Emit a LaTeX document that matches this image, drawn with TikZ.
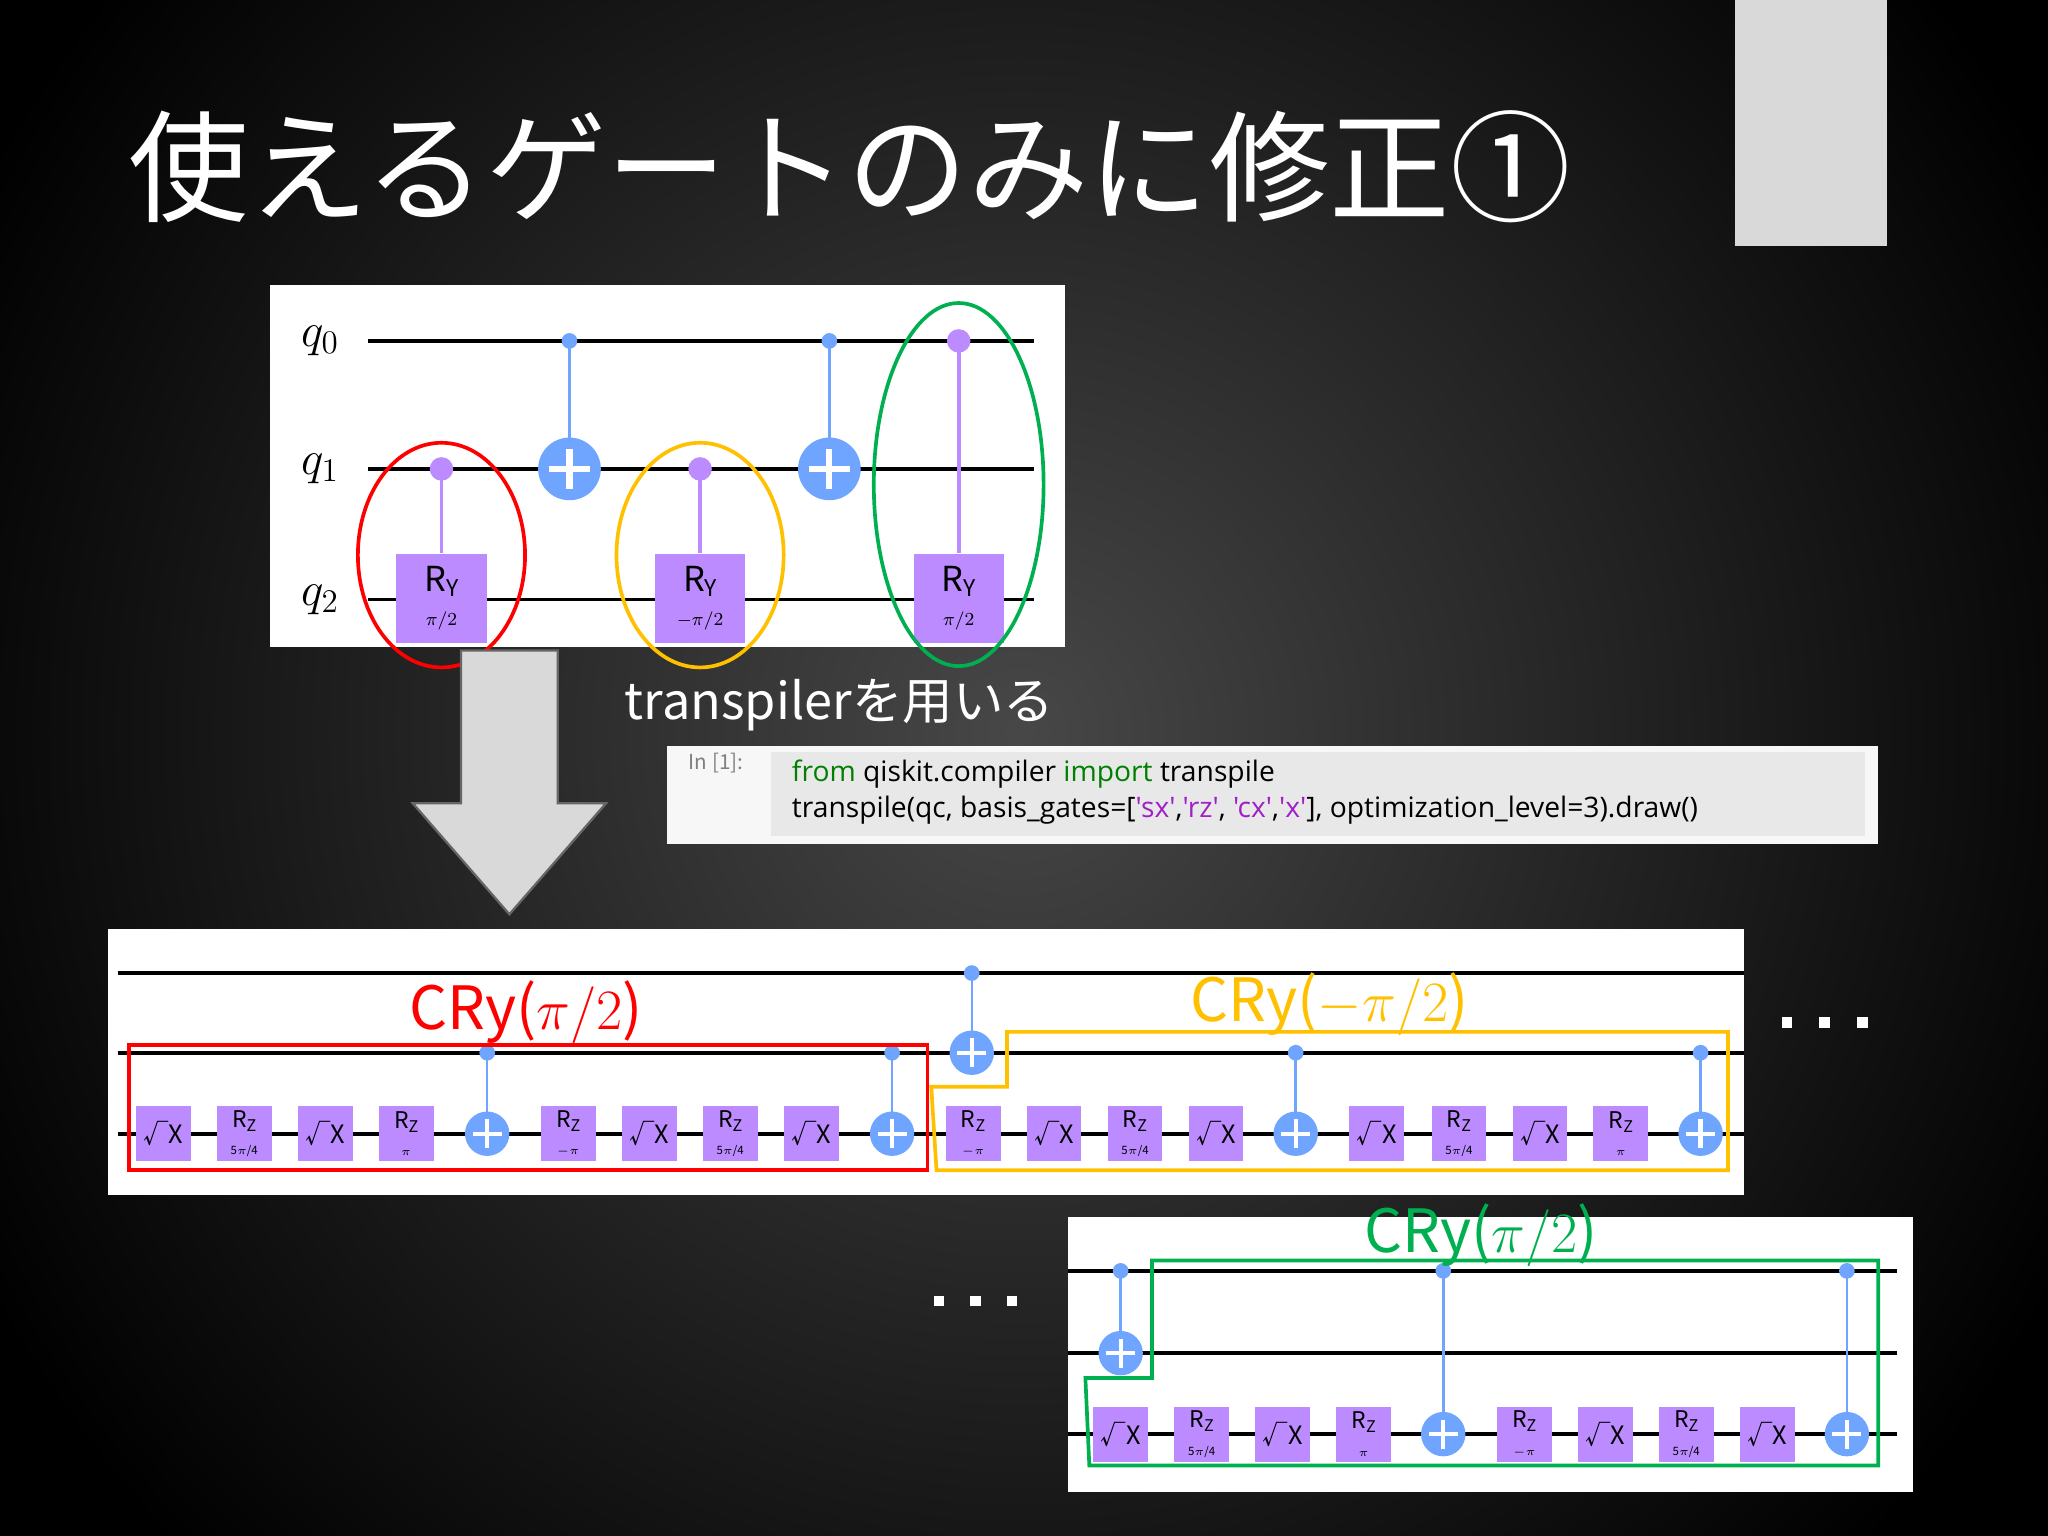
\documentclass[tikz,border=0pt]{standalone}
\usepackage{fontspec}
\setmainfont{Noto Sans CJK JP}
\newfontfamily\jpf{Noto Sans CJK JP}
\newfontfamily\codef{Open Sans}
\definecolor{gpur}{RGB}{187,139,255}
\definecolor{gblu}{RGB}{111,164,255}
\definecolor{myyel}{RGB}{255,192,0}
\definecolor{mygrn}{RGB}{0,176,80}
\definecolor{mystr}{RGB}{160,32,200}
\definecolor{kwgrn}{RGB}{0,128,0}
\newcommand\fs[1]{\fontsize{#1}{#1}\selectfont}
\newcommand\sq[1]{\textcolor{mystr}{\char"27 #1\char"27}}
\tikzset{
 gate/.style={fill=gpur,minimum width=42*0.02cm,minimum height=42*0.02cm,inner sep=0pt,align=center},
 wire/.style={line width=1.6pt,black},
 ctl/.style={circle,fill=gblu,minimum size=12*0.02cm,inner sep=0pt},
 cline/.style={gblu,line width=1.1pt},
 hilite/.style={line width=1.6pt},
}
\newcommand\sxg[2]{\node[gate] (sx#1) at (#1,#2) {\fs{11}√X};}
\newcommand\rzg[3]{\node[gate] (rz#1) at (#1,#2) {\fs{10}R\raisebox{-0.3ex}{\fs{7}Z}\\[0pt]\fs{5}#3};}
\newcommand\cx[5]{%
 \node[ctl] (c#5) at (#1,#2) {};
 \node[circle,fill=gblu,minimum size=#4*0.04cm,inner sep=0pt] (t#5) at (#1,#3) {};
 \draw[cline] (c#5.center) -- (t#5.center);
 \draw[white,line width=#4*0.11pt] ([yshift=-#4*0.013cm]t#5.center) -- ([yshift=#4*0.013cm]t#5.center) ([xshift=-#4*0.013cm]t#5.center) -- ([xshift=#4*0.013cm]t#5.center);}
\begin{document}
\begin{tikzpicture}[x=0.02cm,y=-0.02cm]
\useasboundingbox (0,0) rectangle (1568,1176);
\fill[black] (0,0) rectangle (1568,1176);
\begin{scope}
\clip (0,0) rectangle (1568,1176);
\shade[inner color=black!72!white,outer color=black] (780,560) circle (900);
\end{scope}
\fill[black!15] (1328,0) rectangle (1445,188);
\node[white,anchor=west,inner sep=0pt] (title) at (98,128) {\jpf\fs{52.5}使えるゲートのみに修正①};

% ---------- top circuit
\fill[white] (207,218) rectangle (815,495);
\foreach \y/\n in {261/0,359/1,459/2}{
 \draw[wire] (282,\y) -- (792,\y);
 \node (q\n) at (245,\y) {\fs{21}$q_{\n}$};
}
\cx{436}{261}{359}{24}{A}
\cx{635}{261}{359}{24}{B}
\foreach \xx/\yc/\p/\n in {338/359/{$\pi/2$}/1,536/359/{$-\pi/2$}/2,734/261/{$\pi/2$}/3}{
 \node[circle,fill=gpur,minimum size=18*0.02cm,inner sep=0pt] (ry\n c) at (\xx,\yc) {};
 \node[gate,minimum width=69*0.02cm,minimum height=68*0.02cm] (ry\n) at (\xx,458) {\fs{15}R\raisebox{-0.3ex}{\fs{10}Y}\\[3pt]\fs{8}\p};
 \draw[gpur,line width=1.6pt] (ry\n c.center) -- (ry\n.north);
}
\draw[red,hilite] (338,425) ellipse (64 and 86);
\draw[myyel,hilite] (536,425) ellipse (64 and 86);
\draw[mygrn,hilite] (734,371) ellipse (65 and 139);

% big arrow
\draw[black!60,fill=black!15,line width=1pt] (353,498) -- (427,498) -- (427,615) -- (464,615) -- (390,700) -- (316,615) -- (353,615) -- cycle;

\node[white,anchor=west,inner sep=0pt] (tr) at (478,540) {\fs{22}transpilerを用いる};

% code cell
\fill[black!3] (511,571) rectangle (1438,646);
\fill[black!9] (590,576) rectangle (1428,640);
\node[black!50,anchor=north west,inner sep=0pt] (in1) at (527,576) {\fs{9}In [1]:};
\node[anchor=west,inner sep=0pt] (l1) at (606,593) {\codef\fs{12.3}\textcolor{kwgrn}{from} qiskit.compiler \textcolor{kwgrn}{import} transpile};
\node[anchor=west,inner sep=0pt] (l2) at (606,620) {\codef\fs{12.3}transpile(qc, basis\_gates=[\sq{sx},\sq{rz}, \sq{cx},\sq{x}], optimization\_level=3).draw()};

% ---------- middle circuit
\fill[white] (83,711) rectangle (1335,915);
\foreach \y in {745,806,868} \draw[wire] (90,\y) -- (1335,\y);
\sxg{125}{868}\rzg{187}{868}{5$\pi$/4}\sxg{249}{868}\rzg{311}{868}{$\pi$}
\cx{373}{806}{868}{17}{C}
\rzg{435}{868}{$-\pi$}\sxg{497}{868}\rzg{559}{868}{5$\pi$/4}\sxg{621}{868}
\cx{683}{806}{868}{17}{D}
\cx{744}{745}{806}{17}{E}
\rzg{745}{868}{$-\pi$}\sxg{807}{868}\rzg{869}{868}{5$\pi$/4}\sxg{931}{868}
\cx{992}{806}{868}{17}{F}
\sxg{1054}{868}\rzg{1117}{868}{5$\pi$/4}\sxg{1179}{868}\rzg{1241}{868}{$\pi$}
\cx{1302}{806}{868}{17}{G}
\draw[red,hilite] (99,800) rectangle (710,896);
\node[red] (lab1) at (403,775) {\fs{26}CRy($\pi/2$)};
\draw[myyel,hilite] (771,790) -- (1323,790) -- (1323,896) -- (717,896) -- (713,832) -- (771,832) -- cycle;
\node[myyel] (lab2) at (1018,769) {\fs{26}CRy($-\pi/2$)};

\foreach \xx in {1368,1397,1426} \fill[white] (\xx-4,779) rectangle (\xx+4,787);
\foreach \xx in {719,747,775} \fill[white] (\xx-4,992) rectangle (\xx+4,1000);

% ---------- bottom circuit
\fill[white] (818,932) rectangle (1465,1142);
\foreach \y in {973,1036,1098} \draw[wire] (818,\y) -- (1452,\y);
\cx{858}{973}{1036}{17}{H}
\sxg{858}{1098}\rzg{920}{1098}{5$\pi$/4}\sxg{982}{1098}\rzg{1044}{1098}{$\pi$}
\cx{1105}{973}{1098}{17}{I}
\rzg{1167}{1098}{$-\pi$}\sxg{1229}{1098}\rzg{1291}{1098}{5$\pi$/4}\sxg{1353}{1098}
\cx{1414}{973}{1098}{17}{J}
\draw[mygrn,hilite] (882,965) -- (1438,965) -- (1438,1122) -- (834,1122) -- (831,1055) -- (882,1055) -- cycle;
\node[mygrn] (lab3) at (1134,946) {\fs{26}CRy($\pi/2$)};
\end{tikzpicture}
\end{document}
